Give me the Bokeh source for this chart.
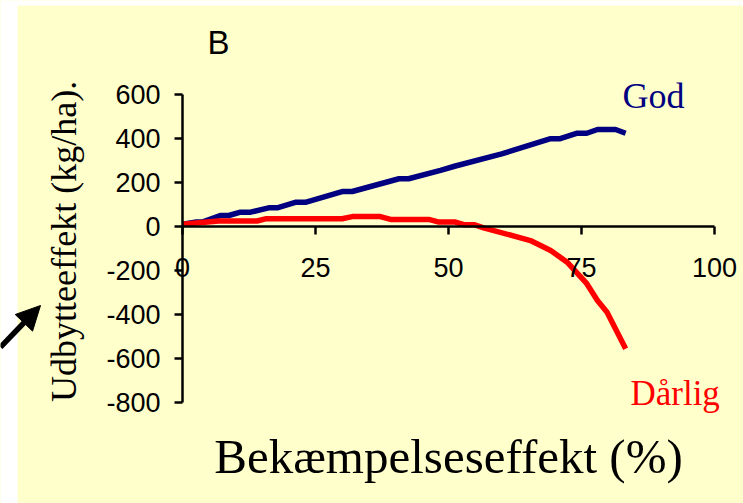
import math
from bokeh.plotting import figure
from bokeh.models import Range1d, FixedTicker, Label, Arrow, NormalHead, BoxAnnotation
from bokeh.embed import file_html
from bokeh.resources import INLINE

# ---- data ----
god_x = [0, 2.4, 3.7, 7.1, 8.7, 10.9, 12.8, 16.2, 17.8, 21.2, 23.1, 30, 31.9,
         40.7, 42.5, 48.5, 51.3, 60, 69.2, 71, 74.2, 76, 78, 81.4, 83.3]
god_y = [10, 20, 20, 50, 50, 65, 65, 85, 85, 110, 110, 159, 159,
         217, 217, 255, 275, 330, 399, 399, 424, 424, 441, 441, 424]

darlig_x = [0, 6.8, 14, 15.6, 30, 31.9, 37.2, 39.1, 46.3, 48.2, 51.3, 52.9, 54.8,
            56.6, 65.4, 69.2, 72.3, 76, 78, 79.8, 83.3]
darlig_y = [10, 25, 25, 35, 35, 45, 45, 32, 32, 20, 20, 8, 8,
            -6, -64, -109, -162, -260, -336, -390, -556]

x_ticks = [0, 25, 50, 75, 100]
y_ticks = [-800, -600, -400, -200, 0, 200, 400, 600]
y_tick_labels = {t: str(t) for t in y_ticks}

BG = "#FFFFCC"

# the frame covers the whole canvas; both axes sit at fixed locations
p = figure(width=743, height=503, output_backend="svg", toolbar_location=None,
           x_range=Range1d(-34.2105, 105.4511), y_range=Range1d(-1259.09, 1027.27),
           min_border_left=0, min_border_top=0, min_border_right=0, min_border_bottom=0,
           background_fill_color=BG, border_fill_color=BG)
p.outline_line_color = None
p.grid.visible = False

# white strips at the left and top edges of the slide
p.add_layout(BoxAnnotation(right=-31.015, fill_color="white", fill_alpha=1.0, line_color=None))
p.add_layout(BoxAnnotation(bottom=1004.5, fill_color="white", fill_alpha=1.0, line_color=None))

p.line(god_x, god_y, line_color="#000080", line_width=5.5)
p.line(darlig_x, darlig_y, line_color="#FF0000", line_width=5.5)

xa = p.xaxis[0]
xa.fixed_location = 0
xa.bounds = (0, 100)
xa.ticker = FixedTicker(ticks=x_ticks)
xa.minor_tick_line_color = None
xa.major_tick_in = 0
xa.major_tick_out = 8
xa.major_label_standoff = 24
xa.axis_line_width = 2.5
xa.major_tick_line_width = 2.5
xa.major_label_text_font = "Liberation Sans"
xa.major_label_text_font_size = "27px"
xa.major_label_text_color = "black"

ya = p.yaxis[0]
ya.fixed_location = 0
ya.bounds = (-800, 600)
ya.ticker = FixedTicker(ticks=y_ticks)
ya.major_label_overrides = y_tick_labels
ya.minor_tick_line_color = None
ya.major_tick_in = 0
ya.major_tick_out = 8
ya.major_label_standoff = 14
ya.axis_line_width = 2.5
ya.major_tick_line_width = 2.5
ya.major_label_text_font = "Liberation Sans"
ya.major_label_text_font_size = "27px"
ya.major_label_text_color = "black"

def lab(x, y, text, font, size, color, align="left", angle=0.0):
    p.add_layout(Label(x=x, y=y, text=text,
                       text_font=font, text_font_size=size, text_align=align,
                       text_baseline="alphabetic", text_color=color, angle=angle))

lab(6.77, 836, "B", "Liberation Sans", "33px", "black", "center")
lab(82.7, 595, "God", "Liberation Serif", "36px", "#000080")
lab(84.2, -758, "Dårlig", "Liberation Serif", "35px", "#FF0000")
lab(50.0, -1045, "Bekæmpelseseffekt (%)", "Liberation Serif", "49px", "black", "center")
lab(-22.2, -68, "Udbytteeffekt (kg/ha).", "Liberation Serif", "36px", "black", "center",
    math.pi / 2)

p.add_layout(Arrow(end=NormalHead(size=24, fill_color="black", line_color="black"),
                   x_start=-34.21, y_start=-548.6, x_end=-26.69, y_end=-359.1,
                   line_width=5.5, line_color="black"))

open("out.html", "w").write(file_html(p, INLINE))
